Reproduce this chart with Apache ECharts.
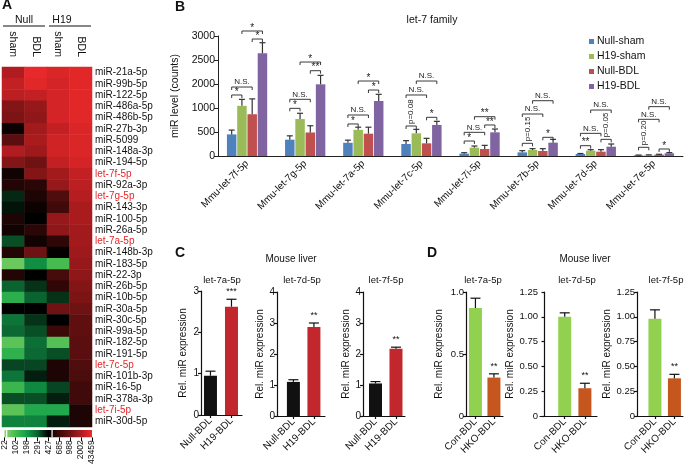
<!DOCTYPE html>
<html><head><meta charset="utf-8">
<script src="https://cdn.jsdelivr.net/npm/echarts@6/dist/echarts.min.js"></script>
<style>html,body{margin:0;padding:0;background:#fff}#c{width:685px;height:467px}</style>
</head><body><div id="c"></div>
<script>
// ---------------- Panel A : heatmap ----------------
const heatRows = ['miR-21a-5p','miR-99b-5p','miR-122-5p','miR-486a-5p','miR-486b-5p','miR-27b-3p','miR-5099','miR-148a-3p','miR-194-5p','let-7f-5p','miR-92a-3p','let-7g-5p','miR-143-3p','miR-100-5p','miR-26a-5p','let-7a-5p','miR-148b-3p','miR-183-5p','miR-22-3p','miR-26b-5p','miR-10b-5p','miR-30a-5p','miR-30c-5p','miR-99a-5p','miR-182-5p','miR-191-5p','let-7c-5p','miR-101b-3p','miR-16-5p','miR-378a-3p','let-7i-5p','miR-30d-5p'];
const heatCols = ['sham','BDL','sham','BDL'];
const heatGroups = ['Null','H19'];
// colour-scale position (0 = 22 counts ... 4 = 427 ... 8 = 43459 counts)
const nullSham = [7.0,7.3,7.2,6.3,6.2,4.2,5.6,7.0,6.3,4.3,4.6,3.6,3.8,4.5,4.3,3.2,4.6,0.5,4.6,3.0,1.5,4.0,2.7,2.9,0.7,1.4,3.3,2.7,1.2,3.2,0.7,2.5];
const nullBDL  = [7.9,7.8,7.3,6.6,6.5,6.8,6.9,6.7,6.0,6.3,4.7,4.5,4.2,4.0,4.7,4.3,6.0,2.3,4.0,3.5,3.0,4.0,3.5,3.2,2.8,2.9,3.3,3.7,2.4,3.2,1.7,2.5];
const h19Sham  = [7.7,7.6,7.6,7.6,7.6,7.3,7.5,7.5,7.3,6.8,6.6,5.4,5.1,6.6,6.5,4.8,4.1,1.0,5.2,4.8,3.5,6.0,4.0,5.0,0.8,3.2,4.5,4.5,3.3,3.7,1.7,3.7];
const h19BDL   = [7.8,7.8,7.8,7.8,7.8,7.7,7.7,7.7,7.6,7.3,7.2,7.1,6.9,6.9,6.8,6.8,6.7,6.6,6.5,6.3,6.2,6.0,5.7,5.7,5.6,5.6,5.4,5.3,5.1,5.1,4.5,4.5];
const colorbarTicks = ['22','102','198','291','427','685','988','2002','43459'];
const heatColors = ['#8fd46c','#45bb50','#12a04a','#0b6330','#000000','#3c0909','#6f1213','#b01c1f','#ee2a2c'];
const colorbarBreaks = [0.2, 4.35];

// ---------------- Panel B : let-7 family ----------------
const bCategories = ['Mmu-let-7f-5p','Mmu-let-7g-5p','Mmu-let-7a-5p','Mmu-let-7c-5p','Mmu-let-7i-5p','Mmu-let-7b-5p','Mmu-let-7d-5p','Mmu-let-7e-5p'];
const bSeriesNames = ['Null-sham','H19-sham','Null-BDL','H19-BDL'];
const bYTickLabels = ['0','500','1000','2000','2500','3000'];
// bar heights in axis units
const bNullSham = [450,340,275,250,49,76,42,14];
const bH19Sham  = [1045,770,545,472,174,125,111,14];
const bNullBDL  = [870,490,465,264,146,104,90,28];
const bH19BDL   = [2140,1493,1146,646,493,278,194,56];
// top of error bars
const bNullShamTop = [540,420,330,320,69,111,52,20];
const bH19ShamTop  = [1180,890,600,555,208,153,132,24];
const bNullBDLTop  = [1190,630,600,368,222,153,132,36];
const bH19BDLTop   = [2360,1680,1285,722,562,347,250,70];
// significance brackets: [category, fromBar, toBar, height, text]
const bSig = [
  [0,0,1,1271,'*'],[0,0,2,1437,'N.S.'],[0,2,3,2437,'*'],[0,1,3,2604,'*'],
  [1,0,1,993,'*'],[1,0,2,1181,'N.S.'],[1,2,3,1777,'**'],[1,1,3,1958,'*'],
  [2,0,1,667,'*'],[2,0,2,854,'N.S.'],[2,2,3,1375,'*'],[2,1,3,1562,'*'],
  [3,0,1,625,'p=0.08'],[3,0,2,1271,'N.S.'],[3,2,3,806,'*'],[3,1,3,1562,'N.S.'],
  [4,0,1,312,'*'],[4,0,2,493,'N.S.'],[4,2,3,646,'**'],[4,1,3,819,'**'],
  [5,0,1,264,'p=0.15'],[5,0,2,875,'N.S.'],[5,2,3,389,'*'],[5,1,3,1152,'N.S.'],
  [6,0,1,215,'**'],[6,0,2,472,'N.S.'],[6,2,3,347,'p=0.05'],[6,1,3,958,'N.S.'],
  [7,0,1,181,'p=0.20'],[7,0,2,764,'N.S.'],[7,2,3,146,'*'],[7,1,3,1028,'N.S.']
];

// ---------------- Panel C ----------------
const cGenes = ['let-7a-5p','let-7d-5p','let-7f-5p'];
const cGroups = ['Null-BDL','H19-BDL'];
const cNullBDL = [0.95,1.10,1.05];
const cH19BDL  = [2.62,2.87,2.17];
const cNullBDLErr = [0.11,0.07,0.06];
const cH19BDLErr  = [0.18,0.13,0.05];
const cSig = ['***','**','**'];
const cYMax = [3,4,4];

// ---------------- Panel D ----------------
const dGenes = ['let-7a-5p','let-7d-5p','let-7f-5p'];
const dGroups = ['Con-BDL','HKO-BDL'];
const dConBDL = [0.87,1.00,0.98];
const dHKOBDL = [0.31,0.28,0.38];
const dConBDLErr = [0.08,0.04,0.09];
const dHKOBDLErr = [0.03,0.05,0.04];
const dSig = ['**','**','**'];

// ================= build =================
const FONT = 'Liberation Sans, Arial, Helvetica, sans-serif';
const bColors = ['#4f81bd','#9bbb59','#c0504d','#8064a2'];
const B_BAR_W = 9.5, B_GAP = 0.08;
function bOffset(i){ const g = B_BAR_W*B_GAP; const tot = 4*B_BAR_W+3*g; return -tot/2 + i*(B_BAR_W+g) + B_BAR_W/2; }

const grids = [], xAxes = [], yAxes = [], series = [];

// Heatmap grid 0
grids.push({left:2, top:67, width:90, height:360});
xAxes.push({type:'category', gridIndex:0, position:'top', data:heatCols,
  axisLine:{show:false}, axisTick:{show:false},
  axisLabel:{rotate:90, fontSize:10.5, margin:10, color:'#111', interval:0}});
yAxes.push({type:'category', gridIndex:0, position:'right', inverse:true, data:heatRows,
  axisLine:{show:false}, axisTick:{show:false},
  axisLabel:{fontSize:10, margin:3, interval:0, color:(v)=> v.indexOf('let-7')===0 ? '#e8262a' : '#111'}});
const heatData = [];
[nullSham,nullBDL,h19Sham,h19BDL].forEach((col,ci)=>col.forEach((v,ri)=>heatData.push([ci,ri,v])));
series.push({type:'heatmap', xAxisIndex:0, yAxisIndex:0, data:heatData, itemStyle:{borderWidth:0}, emphasis:{disabled:true}});

// Colour bar grid 1
grids.push({left:2, top:430, width:90, height:10});
xAxes.push({type:'value', gridIndex:1, min:0, max:8, interval:1, splitLine:{show:false},
  axisLine:{show:false}, axisTick:{show:true, length:4, lineStyle:{color:'#000'}},
  axisLabel:{rotate:90, fontSize:8.5, margin:3, color:'#111', formatter:(v)=>colorbarTicks[Math.round(v)]||''}});
yAxes.push({type:'value', gridIndex:1, min:0, max:1, show:false});
series.push({type:'custom', xAxisIndex:1, yAxisIndex:1, data:[[0,8]], silent:true,
  renderItem:(p,api)=>{
    const a = api.coord([api.value(0),1]), b = api.coord([api.value(1),0]);
    const kids = [{type:'rect', shape:{x:a[0],y:a[1],width:b[0]-a[0],height:b[1]-a[1]},
      style:{fill:new echarts.graphic.LinearGradient(0,0,1,0, heatColors.map((c,i)=>({offset:i/(heatColors.length-1), color:c})))}}];
    colorbarBreaks.forEach(v=>{ const q = api.coord([v,0]); kids.push({type:'line', shape:{x1:q[0],y1:a[1],x2:q[0],y2:b[1]}, style:{stroke:'#fff', lineWidth:1.2}}); });
    return {type:'group', children:kids};
  }});

// Panel B grid 2
grids.push({left:218, top:36, width:465, height:120});
xAxes.push({type:'category', gridIndex:2, data:bCategories,
  axisLine:{lineStyle:{color:'#222', width:1}}, axisTick:{show:false},
  axisLabel:{rotate:45, fontSize:10, margin:6, interval:0, color:'#111'}});
yAxes.push({type:'value', gridIndex:2, min:0, max:2500, interval:500, splitLine:{show:false},
  axisLine:{show:true, lineStyle:{color:'#222', width:1}}, axisTick:{show:true, length:4, lineStyle:{color:'#222'}},
  axisLabel:{fontSize:10.5, margin:3, color:'#111', formatter:(v)=>bYTickLabels[Math.round(v/500)]},
  name:'miR level (counts)', nameLocation:'middle', nameGap:24, nameTextStyle:{fontSize:10.5, color:'#111'}});
const bVals = [bNullSham,bH19Sham,bNullBDL,bH19BDL];
const bTops = [bNullShamTop,bH19ShamTop,bNullBDLTop,bH19BDLTop];
bSeriesNames.forEach((n,i)=>series.push({type:'bar', name:n, xAxisIndex:2, yAxisIndex:2, data:bVals[i],
  barWidth:B_BAR_W, barGap:(B_GAP*100)+'%', itemStyle:{color:bColors[i]}}));
const bErrData = [];
bVals.forEach((arr,i)=>arr.forEach((v,c)=>bErrData.push([c,i,v,bTops[i][c]])));
series.push({type:'custom', xAxisIndex:2, yAxisIndex:2, data:bErrData, encode:{x:0,y:3}, silent:true, z:3,
  renderItem:(p,api)=>{
    const c = api.value(0), i = api.value(1);
    const p0 = api.coord([c, api.value(2)]), p1 = api.coord([c, api.value(3)]);
    const x = p0[0] + bOffset(i);
    const st = {stroke:'#333', lineWidth:1.2};
    return {type:'group', children:[
      {type:'line', shape:{x1:x,y1:p0[1],x2:x,y2:p1[1]}, style:st},
      {type:'line', shape:{x1:x-3,y1:p1[1],x2:x+3,y2:p1[1]}, style:st}]};
  }});
series.push({type:'custom', xAxisIndex:2, yAxisIndex:2, data:bSig.map(s=>[s[0],s[1],s[2],s[3]]), encode:{x:0,y:3}, silent:true, z:4,
  renderItem:(p,api)=>{
    const c = api.value(0), i = api.value(1), j = api.value(2);
    const pt = api.coord([c, api.value(3)]);
    const x1 = pt[0]+bOffset(i), x2 = pt[0]+bOffset(j), y = pt[1];
    const txt = bSig[p.dataIndex][4];
    const st = {stroke:'#222', lineWidth:0.9};
    const kids = [
      {type:'line', shape:{x1:x1,y1:y,x2:x2,y2:y}, style:st},
      {type:'line', shape:{x1:x1,y1:y,x2:x1,y2:y+3}, style:st},
      {type:'line', shape:{x1:x2,y1:y,x2:x2,y2:y+3}, style:st}];
    const mid = (x1+x2)/2;
    if (txt.indexOf('p=')===0) {
      kids.push({type:'text', x:mid, y:y-2, rotation:Math.PI/2,
        style:{text:txt, fill:'#222', font:'8px '+FONT, textAlign:'left', textVerticalAlign:'middle', align:'left', verticalAlign:'middle'}});
    } else {
      const isStar = txt.indexOf('*')===0;
      kids.push({type:'text', x:mid, y: isStar ? y+2 : y-1,
        style:{text:txt, fill:'#222', font:(isStar?'10px ':'8px ')+FONT, textAlign:'center', textVerticalAlign:'bottom', align:'center', verticalAlign:'bottom'}});
    }
    return {type:'group', children:kids};
  }});

// Panels C and D small plots
const smallPlots = [
  {left:201, top:291, width:41, xmin:0.55, xmax:2.5, ymax:cYMax[0], interval:1, means:[cNullBDL[0],cH19BDL[0]], errs:[cNullBDLErr[0],cH19BDLErr[0]], sig:cSig[0], labels:cGroups, colors:['#111111','#c1272d'], nameGap:13, fmt:(v)=>String(v)},
  {left:277, top:292, width:48, xmin:0.2, xmax:2.54, ymax:cYMax[1], interval:1, means:[cNullBDL[1],cH19BDL[1]], errs:[cNullBDLErr[1],cH19BDLErr[1]], sig:cSig[1], labels:cGroups, colors:['#111111','#c1272d'], nameGap:10, fmt:(v)=>String(v)},
  {left:363, top:292, width:42, xmin:0.39, xmax:2.44, ymax:cYMax[2], interval:1, means:[cNullBDL[2],cH19BDL[2]], errs:[cNullBDLErr[2],cH19BDLErr[2]], sig:cSig[2], labels:cGroups, colors:['#111111','#c1272d'], nameGap:12, fmt:(v)=>String(v)},
  {left:466, top:292, width:37, xmin:0.49, xmax:2.49, ymax:1.0, interval:0.5, means:[dConBDL[0],dHKOBDL[0]], errs:[dConBDLErr[0],dHKOBDLErr[0]], sig:dSig[0], labels:dGroups, colors:['#92d050','#c5561d'], nameGap:22, fmt:(v)=> v===0?'0':v.toFixed(1)},
  {left:540, top:292, width:57, xmin:-0.225, xmax:2.6, ymax:1.25, interval:0.25, means:[dConBDL[1],dHKOBDL[1]], errs:[dConBDLErr[1],dHKOBDLErr[1]], sig:dSig[1], labels:dGroups, colors:['#92d050','#c5561d'], nameGap:24, fmt:(v)=> v===0?'0':v.toFixed(2)},
  {left:637, top:292, width:46, xmin:0.08, xmax:2.44, ymax:1.25, interval:0.25, means:[dConBDL[2],dHKOBDL[2]], errs:[dConBDLErr[2],dHKOBDLErr[2]], sig:dSig[2], labels:dGroups, colors:['#92d050','#c5561d'], nameGap:24, fmt:(v)=> v===0?'0':v.toFixed(2)}
];
smallPlots.forEach((sp,k)=>{
  const gi = grids.length;
  grids.push({left:sp.left, top:sp.top, width:sp.width, height:124});
  xAxes.push({type:'value', gridIndex:gi, min:sp.xmin, max:sp.xmax, splitLine:{show:false},
    axisLine:{lineStyle:{color:'#111', width:1.2}},
    axisTick:{show:true, customValues:[1,2], length:3, lineStyle:{color:'#111', width:1.2}},
    axisLabel:{customValues:[1,2], rotate:45, fontSize:10, margin:4, color:'#111', formatter:(v)=>sp.labels[Math.round(v)-1]||''}});
  yAxes.push({type:'value', gridIndex:gi, min:0, max:sp.ymax, interval:sp.interval, splitLine:{show:false},
    axisLine:{show:true, lineStyle:{color:'#111', width:1.2}}, axisTick:{show:true, length:3, lineStyle:{color:'#111', width:1.2}},
    axisLabel:{fontSize:k>=3?9.5:10, margin:2, color:'#111', formatter:sp.fmt},
    name:'Rel. miR expression', nameLocation:'middle', nameGap:sp.nameGap, nameTextStyle:{fontSize:10, color:'#111'}});
  series.push({type:'bar', xAxisIndex:gi, yAxisIndex:gi, barWidth:13,
    data:sp.means.map((m,i)=>({value:[i+1,m], itemStyle:{color:sp.colors[i]}}))});
  series.push({type:'custom', xAxisIndex:gi, yAxisIndex:gi, silent:true, z:3,
    data:sp.means.map((m,i)=>[i+1,m,sp.errs[i]]), encode:{x:0,y:1},
    renderItem:(p,api)=>{
      const x = api.value(0), m = api.value(1), e = api.value(2);
      const p0 = api.coord([x,m]), p1 = api.coord([x,m+e]);
      const st = {stroke:'#111', lineWidth:1.2};
      const kids = [
        {type:'line', shape:{x1:p0[0],y1:p0[1],x2:p1[0],y2:p1[1]}, style:st},
        {type:'line', shape:{x1:p1[0]-5,y1:p1[1],x2:p1[0]+5,y2:p1[1]}, style:st}];
      if (p.dataIndex===1) kids.push({type:'text', x:p1[0], y:p1[1]-3,
        style:{text:sp.sig, fill:'#111', font:'9px '+FONT, textAlign:'center', textVerticalAlign:'bottom', align:'center', verticalAlign:'bottom'}});
      return {type:'group', children:kids};
    }});
});

function txt(x,y,t,size,opts){
  opts = opts||{};
  return {type:'text', x:x, y:y, silent:true, style:{text:t, fill:'#111', font:(opts.bold?'bold ':'')+size+'px '+FONT,
    textAlign:opts.align||'center', textVerticalAlign:'middle', align:opts.align||'center', verticalAlign:'middle'}};
}
const graphics = [
  txt(7,5,'A',14,{bold:true}), txt(180,7.5,'B',14,{bold:true}), txt(180,253.5,'C',14,{bold:true}), txt(432,253,'D',14,{bold:true}),
  txt(24,20,heatGroups[0],10.5), txt(62,20,heatGroups[1],10.5),
  {type:'line', shape:{x1:3,y1:26,x2:45,y2:26}, style:{stroke:'#111', lineWidth:1.2}},
  {type:'line', shape:{x1:49,y1:26,x2:91,y2:26}, style:{stroke:'#111', lineWidth:1.2}},
  txt(432,20,'let-7 family',10.5),
  txt(291,259,'Mouse liver',10), txt(585,259,'Mouse liver',10),
  txt(222,280,cGenes[0],9.5), txt(302,280,cGenes[1],9.5), txt(386,280,cGenes[2],9.5),
  txt(483,280,dGenes[0],9.5), txt(577,280,dGenes[1],9.5), txt(666,280,dGenes[2],9.5)
];

const chart = echarts.init(document.getElementById('c'));
chart.setOption({
  animation:false,
  textStyle:{fontFamily:FONT},
  grid:grids, xAxis:xAxes, yAxis:yAxes, series:series,
  visualMap:[{type:'continuous', show:false, min:0, max:8, seriesIndex:0, dimension:2, inRange:{color:heatColors}}],
  legend:{data:bSeriesNames, orient:'vertical', left:584, top:31, itemWidth:5, itemHeight:5, itemGap:4, icon:'rect',
    textStyle:{fontSize:10.5, color:'#111', padding:[0,0,0,-2]}},
  graphic:graphics
});
</script></body></html>
